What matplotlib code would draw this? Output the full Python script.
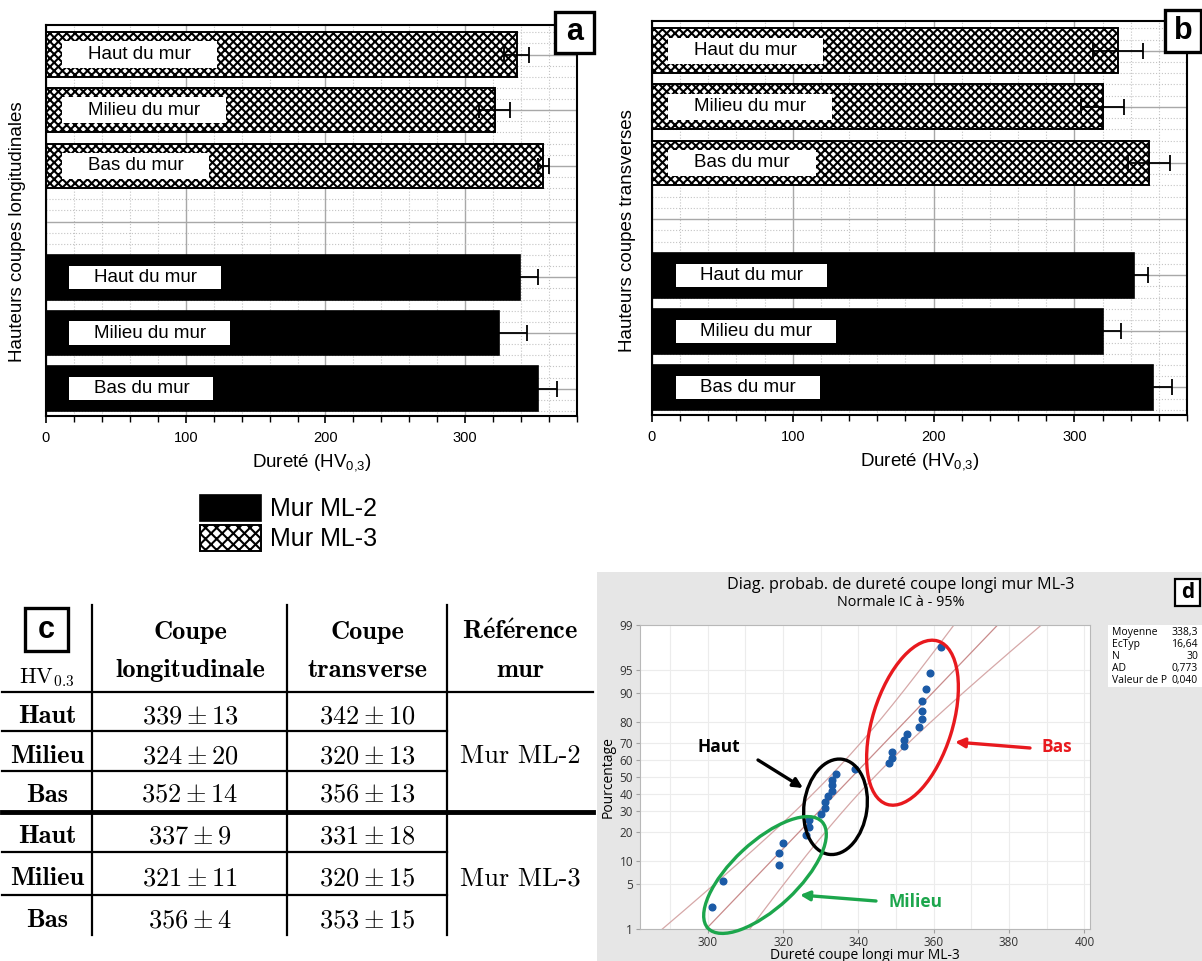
import statistics
import numpy as np
import matplotlib
matplotlib.use("Agg")
import matplotlib.pyplot as plt
from matplotlib.patches import Rectangle, Ellipse, Patch
from matplotlib.ticker import MultipleLocator

W, H = 1202, 961

# ---- data ----
niveaux = ['Haut du mur', 'Milieu du mur', 'Bas du mur']
niveaux_court = ['Haut', 'Milieu', 'Bas']
long_ml2 = [339, 324, 352]
long_ml2_err = [13, 20, 14]
long_ml3 = [337, 321, 356]
long_ml3_err = [9, 11, 4]
trans_ml2 = [342, 320, 356]
trans_ml2_err = [10, 13, 13]
trans_ml3 = [331, 320, 353]
trans_ml3_err = [18, 15, 15]
murs = ['Mur ML-2', 'Mur ML-3']

# slots from the bottom: ML-2 Haut/Milieu/Bas, empty slot, ML-3 Haut/Milieu/Bas
pos_ml2 = [2, 1, 0]
pos_ml3 = [6, 5, 4]

# panel d : longitudinal hardness values of wall ML-3
durete_ml3 = [301, 304, 319, 319, 320, 326, 327, 327, 330, 331,
              331, 332, 333, 333, 333, 334, 339, 348, 349, 349,
              352, 352, 353, 356, 357, 357, 357, 358, 359, 362]
pct_ticks = [1, 5, 10, 20, 30, 40, 50, 60, 70, 80, 90, 95, 99]
stat_noms = ['Moyenne', 'EcTyp', 'N', 'AD', 'Valeur de P']
ad_txt = '0,773'
p_txt = '0,040'

plt.rcParams['font.family'] = ['Liberation Sans', 'DejaVu Sans']
plt.rcParams['mathtext.fontset'] = 'custom'
plt.rcParams['mathtext.rm'] = 'Liberation Sans'
plt.rcParams['mathtext.it'] = 'Liberation Sans:italic'
plt.rcParams['mathtext.bf'] = 'Liberation Sans:bold'
plt.rcParams['hatch.linewidth'] = 1.5

fig = plt.figure(figsize=(W / 100, H / 100), dpi=100)


def bar_panel(rect, v2, e2, v3, e3):
    ax = fig.add_axes(rect)
    ax.set_xlim(0, 380)
    ax.set_ylim(-0.49, 6.53)
    ax.barh(pos_ml2, v2, height=0.8, color='black', edgecolor='black', lw=1.2, zorder=2)
    ax.barh(pos_ml3, v3, height=0.8, color='white', edgecolor='black', hatch='xxxx', lw=1.4, zorder=2)
    ax.errorbar(v2, pos_ml2, xerr=e2, fmt='none', ecolor='black', elinewidth=1.3,
                capsize=6, capthick=1.3, zorder=3)
    ax.errorbar(v3, pos_ml3, xerr=e3, fmt='none', ecolor='black', elinewidth=1.3,
                capsize=6, capthick=1.3, zorder=3)
    for lbl, p in zip(niveaux, pos_ml2):
        ax.text(19, p, '    ' + lbl + '    ', ha='left', va='center', fontsize=13.5,
                bbox=dict(boxstyle='square,pad=0.17', fc='white', ec='none'), zorder=4)
    for lbl, p in zip(niveaux, pos_ml3):
        ax.text(15, p, '    ' + lbl + '    ', ha='left', va='center', fontsize=13.5,
                bbox=dict(boxstyle='square,pad=0.25', fc='white', ec='none'), zorder=4)
    ax.xaxis.set_major_locator(MultipleLocator(100))
    ax.xaxis.set_minor_locator(MultipleLocator(20))
    ax.yaxis.set_major_locator(MultipleLocator(1))
    ax.yaxis.set_minor_locator(MultipleLocator(0.2))
    ax.grid(which='major', color='#a8a8a8', lw=1.0)
    ax.grid(which='minor', color='#c4c4c4', lw=0.8, ls=':')
    ax.set_axisbelow(True)
    ax.tick_params(axis='y', which='both', left=False, labelleft=False)
    ax.tick_params(axis='x', which='major', length=5, width=1.2, labelsize=10.5, pad=6)
    ax.tick_params(axis='x', which='minor', length=4, width=1.0)
    for s in ax.spines.values():
        s.set_linewidth(1.5)
    ax.set_xlabel('Dureté (HV$_{0{,}3}$)', fontsize=13.5, labelpad=5)
    return ax


bar_panel([46 / W, 1 - 416 / H, 531 / W, 391 / H],
          long_ml2, long_ml2_err, long_ml3, long_ml3_err)
bar_panel([652 / W, 1 - 415 / H, 535 / W, 394 / H],
          trans_ml2, trans_ml2_err, trans_ml3, trans_ml3_err)

leg_handles = [Patch(fc='black', ec='black', lw=1.2),
               Patch(fc='white', ec='black', hatch='xxx', lw=1.4)]
fig.legend(leg_handles, murs, loc='upper left', bbox_to_anchor=(200 / W, 1 - 495 / H),
           frameon=False, fontsize=18, handlelength=2.44, handleheight=1.2,
           handletextpad=0.36, labelspacing=0.16, borderpad=0, borderaxespad=0)

# ---- panel d : normal probability plot ----
fig.add_artist(Rectangle((597 / W, 0), 1 - 597 / W, 1 - 572 / H, transform=fig.transFigure,
                         fc='#e6e6e6', ec='none', zorder=-1))
nd = statistics.NormalDist()
n = len(durete_ml3)
xs = np.sort(durete_ml3)
zs = [nd.inv_cdf((i - 0.3) / (n + 0.4)) for i in range(1, n + 1)]
moy = np.mean(xs)
ect = np.std(xs, ddof=1)
zlo, zhi = nd.inv_cdf(0.01), nd.inv_cdf(0.99)
zl = np.linspace(zlo - 0.2, zhi + 0.2, 200)
fit = moy + zl * ect
se = ect * np.sqrt(1 / n + zl ** 2 / (2 * (n - 1)))

dfont = ['Open Sans', 'DejaVu Sans']
axd = fig.add_axes([640 / W, 1 - 929 / H, 450 / W, 304 / H])
axd.plot(fit, zl, color='#c98b8b', lw=0.9)
axd.plot(fit - 1.96 * se, zl, color='#d6a8a8', lw=0.9)
axd.plot(fit + 1.96 * se, zl, color='#d6a8a8', lw=0.9)
axd.plot(xs, zs, 'o', color='#1b5aa6', ms=4.8, zorder=3)
axd.set_xlim(282, 401.5)
axd.set_ylim(zlo, zhi)
axd.set_yticks([nd.inv_cdf(p / 100) for p in pct_ticks])
axd.set_yticklabels([str(p) for p in pct_ticks], family=dfont)
axd.set_xticks(range(300, 401, 20))
axd.set_xticklabels([str(v) for v in range(300, 401, 20)], family=dfont)
axd.xaxis.set_minor_locator(MultipleLocator(10))
axd.grid(which='both', color='#ececec', lw=0.8)
axd.set_axisbelow(True)
axd.tick_params(which='both', labelsize=8.5, labelcolor='#333333', color='#a0a0a0', length=3, pad=2)
axd.tick_params(which='minor', length=0)
for s in axd.spines.values():
    s.set_color('#b8b8b8')
    s.set_linewidth(0.8)
axd.set_ylabel('Pourcentage', family=dfont, fontsize=10, labelpad=3)
axd.set_xlabel('Dureté coupe longi mur ML-3', family=dfont, fontsize=10, labelpad=-1)

# ---- overlay in pixel coordinates : labels, table, annotations ----
ov = fig.add_axes([0, 0, 1, 1])
ov.set_xlim(0, W)
ov.set_ylim(H, 0)
ov.axis('off')
ov.patch.set_visible(False)

ov.text(18, 232, 'Hauteurs coupes longitudinales', rotation=90, ha='center', va='center', fontsize=13.5)
ov.text(627, 231, 'Hauteurs coupes transverses', rotation=90, ha='center', va='center', fontsize=13.5)

for (x0, y0, w, h), lettre in [((555, 12, 39, 41), 'a'), ((1165, 10, 36, 42), 'b'),
                               ((25, 608, 43, 43), 'c'), ((1175, 579, 25, 27), 'd')]:
    ov.add_patch(Rectangle((x0, y0), w, h, fc='white', ec='black',
                           lw=2.4 if lettre != 'd' else 1.6, zorder=5))
    ov.text(x0 + w / 2, y0 + h / 2, lettre, ha='center', va='center', fontweight='bold',
            fontsize=15 if lettre == 'd' else 22, zorder=6,
            family=dfont if lettre == 'd' else None)

# table c
cmb = dict(family='cmb10', fontsize=19, ha='center', va='baseline')
cm = dict(math_fontfamily='cm', fontsize=19, ha='center', va='baseline')
for x in [92, 287, 447]:
    ov.plot([x, x], [605, 935], color='black', lw=1.6)
ov.plot([2, 593], [692, 692], color='black', lw=1.6)
ov.plot([2, 593], [812, 812], color='black', lw=3.5)
for y in [731, 771, 852, 895]:
    ov.plot([2, 447], [y, y], color='black', lw=1.6)

ov.text(47, 683, r'$\mathrm{HV}_{0.3}$', math_fontfamily='cm', fontsize=16, ha='center', va='baseline')
ov.text(190, 639, 'Coupe', **cmb)
ov.text(190, 677, 'longitudinale', **cmb)
ov.text(367, 639, 'Coupe', **cmb)
ov.text(367, 677, 'transverse', **cmb)
ov.text(520, 639, r'$\mathbf{R\acute{e}f\acute{e}rence}$', **cm)
ov.text(520, 677, 'mur', **cmb)

row_base = [723, 763, 802, 843, 885, 927]
groupes = [(long_ml2, long_ml2_err, trans_ml2, trans_ml2_err),
           (long_ml3, long_ml3_err, trans_ml3, trans_ml3_err)]
for g, (lv, le, tv, te) in enumerate(groupes):
    for i in range(3):
        y = row_base[3 * g + i]
        ov.text(47, y, niveaux_court[i], **cmb)
        ov.text(190, y, r'$%d \pm %d$' % (lv[i], le[i]), **cm)
        ov.text(367, y, r'$%d \pm %d$' % (tv[i], te[i]), **cm)
    ov.text(520, row_base[3 * g + 1], murs[g], family='cmr10', fontsize=19, ha='center', va='baseline')

# panel d titles and stats box
ov.text(901, 585, 'Diag. probab. de dureté coupe longi mur ML-3', ha='center', va='center',
        family=dfont, fontsize=11.6)
ov.text(901, 602, 'Normale IC à - 95%', ha='center', va='center', family=dfont, fontsize=10.4)
ov.add_patch(Rectangle((1108, 625), 94, 62, fc='white', ec='none'))
stat_vals = [f'{moy:.1f}'.replace('.', ','), f'{ect:.2f}'.replace('.', ','), str(n), ad_txt, p_txt]
for k, (nom, val) in enumerate(zip(stat_noms, stat_vals)):
    yy = 633 + k * 11.8
    ov.text(1112, yy, nom, ha='left', va='center', family=dfont, fontsize=7.5)
    ov.text(1198, yy, val, ha='right', va='center', family=dfont, fontsize=7.5)

# ellipses and arrows
for (cx, cy, w, h, ang, col) in [(912.5, 722.7, 171, 80, -72.7, '#e8191e'),
                                 (835.5, 806.8, 96, 63, -82, 'black'),
                                 (765, 875, 156, 66, -43, '#1ca64c')]:
    ov.add_patch(Ellipse((cx, cy), w, h, angle=ang, fill=False, ec=col, lw=2.4, zorder=4))

for (txt, tx, ty, ax0, ay0, ax1, ay1, col) in [
        ('Haut', 719, 747, 758, 760, 803, 788, 'black'),
        ('Bas', 1057, 747, 1030, 748, 955, 742, '#e8191e'),
        ('Milieu', 915, 902, 876, 901, 800, 895, '#1ca64c')]:
    ov.text(tx, ty, txt, ha='center', va='center', fontweight='bold', fontsize=12.5,
            color=col, family=dfont)
    ov.annotate('', xy=(ax1, ay1), xytext=(ax0, ay0),
                arrowprops=dict(arrowstyle='-|>', color=col, lw=2.4, mutation_scale=14,
                                shrinkA=0, shrinkB=0))

fig.savefig('out.png', dpi=100)
